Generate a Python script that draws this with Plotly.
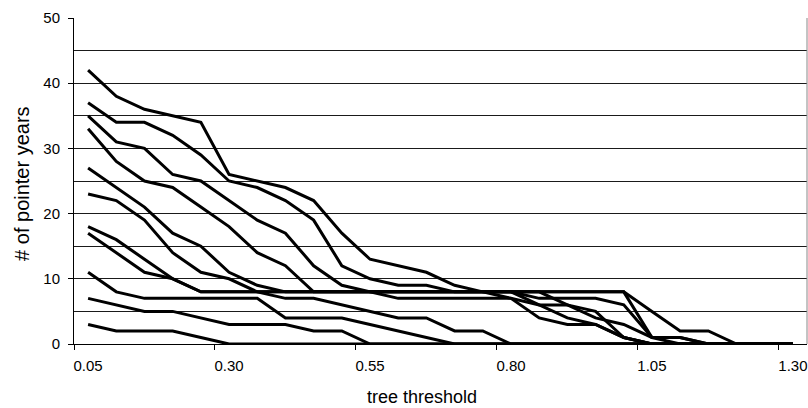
import plotly.graph_objects as go

# x categories: tree threshold 0.05 .. 1.30 step 0.05
thresholds = [round(0.05 * k, 2) for k in range(1, 27)]

s_a = [42, 38, 36, 35, 34, 26, 25, 24, 22, 17, 13, 12, 11, 9, 8, 8, 8, 8, 8, 8, 5, 2, 2, 0, 0, 0]
s_b = [37, 34, 34, 32, 29, 25, 24, 22, 19, 12, 10, 9, 9, 8, 8, 8, 8, 8, 8, 8, 1, 1, 0, 0, 0, 0]
s_c = [35, 31, 30, 26, 25, 22, 19, 17, 12, 9, 8, 7, 7, 7, 7, 7, 6, 6, 5, 1, 0, 0, 0, 0, 0, 0]
s_d = [33, 28, 25, 24, 21, 18, 14, 12, 8, 8, 8, 8, 8, 8, 8, 8, 7, 7, 7, 6, 1, 1, 0, 0, 0, 0]
s_e = [27, 24, 21, 17, 15, 11, 9, 8, 8, 8, 8, 8, 8, 8, 8, 8, 8, 6, 4, 3, 1, 0, 0, 0, 0, 0]
s_f = [23, 22, 19, 14, 11, 10, 8, 7, 7, 6, 5, 4, 4, 2, 2, 0, 0, 0, 0, 0, 0, 0, 0, 0, 0, 0]
s_g = [18, 16, 13, 10, 8, 8, 8, 8, 8, 8, 8, 8, 8, 8, 8, 8, 6, 4, 3, 1, 0, 0, 0, 0, 0, 0]
s_h = [17, 14, 11, 10, 8, 8, 8, 8, 8, 8, 8, 8, 8, 8, 8, 7, 4, 3, 3, 1, 0, 0, 0, 0, 0, 0]
s_i = [11, 8, 7, 7, 7, 7, 7, 4, 4, 4, 3, 2, 1, 0, 0, 0, 0, 0, 0, 0, 0, 0, 0, 0, 0, 0]
s_j = [7, 6, 5, 5, 4, 3, 3, 3, 2, 2, 0, 0, 0, 0, 0, 0, 0, 0, 0, 0, 0, 0, 0, 0, 0, 0]
s_k = [3, 2, 2, 2, 1, 0, 0, 0, 0, 0, 0, 0, 0, 0, 0, 0, 0, 0, 0, 0, 0, 0, 0, 0, 0, 0]

series = [s_a, s_b, s_c, s_d, s_e, s_f, s_g, s_h, s_i, s_j, s_k]

label_vals = [0.05, 0.30, 0.55, 0.80, 1.05, 1.30]
label_text = ["0.05", "0.30", "0.55", "0.80", "1.05", "1.30"]

x_title = "tree threshold"
y_title = "# of pointer years"

half = 0.025
xmin = thresholds[0] - half
xmax = thresholds[-1] + half
boundaries = [v - half for v in label_vals]

FONT = "Arial, 'Liberation Sans', sans-serif"

fig = go.Figure()
for s in series:
    fig.add_trace(go.Scatter(
        x=thresholds, y=s, mode="lines",
        line=dict(color="black", width=3),
        showlegend=False, hoverinfo="skip",
    ))

# invisible helper trace so the boundary tick axis is drawn
fig.add_trace(go.Scatter(
    x=boundaries, y=[0] * len(boundaries), xaxis="x2", mode="markers",
    marker=dict(opacity=0), showlegend=False, hoverinfo="skip",
))

fig.update_layout(
    width=808, height=408,
    margin=dict(l=74, r=1, t=18, b=64),
    paper_bgcolor="white", plot_bgcolor="white",
    font=dict(family=FONT, color="black", size=15),
    xaxis=dict(
        range=[xmin, xmax],
        tickmode="array", tickvals=label_vals, ticktext=label_text,
        ticks="outside", ticklen=8, tickcolor="rgba(0,0,0,0)",
        showgrid=False, zeroline=False,
        showline=True, linecolor="black", linewidth=1,
        tickfont=dict(size=15),
    ),
    xaxis2=dict(
        overlaying="x", anchor="y", side="bottom",
        range=[xmin, xmax],
        tickmode="array", tickvals=boundaries,
        ticks="outside", ticklen=5, tickcolor="black", tickwidth=1,
        showticklabels=False, showgrid=False, zeroline=False, showline=False,
    ),
    yaxis=dict(
        range=[0, 50], tickmode="linear", tick0=0, dtick=10,
        ticks="outside", ticklen=5, tickcolor="black",
        showgrid=True, gridcolor="#1a1a1a", gridwidth=1,
        minor=dict(dtick=5, showgrid=True, gridcolor="#1a1a1a", gridwidth=1, ticks=""),
        zeroline=False,
        showline=True, linecolor="black", linewidth=1,
        tickfont=dict(size=15),
        ticklabelstandoff=5,
    ),
    annotations=[
        dict(text=x_title, xref="paper", yref="paper", x=0.475, y=-0.163,
             xanchor="center", yanchor="middle", showarrow=False,
             font=dict(size=18, color="black", family=FONT)),
        dict(text=y_title, xref="paper", yref="paper", x=-0.071, y=0.494,
             xanchor="center", yanchor="middle", showarrow=False, textangle=-90,
             font=dict(size=20, color="black", family=FONT)),
    ],
    shapes=[dict(type="line", xref="paper", yref="paper", x0=1, x1=1, y0=0, y1=1,
                 line=dict(color="#888888", width=1))],
)

fig.write_html("out.html")
